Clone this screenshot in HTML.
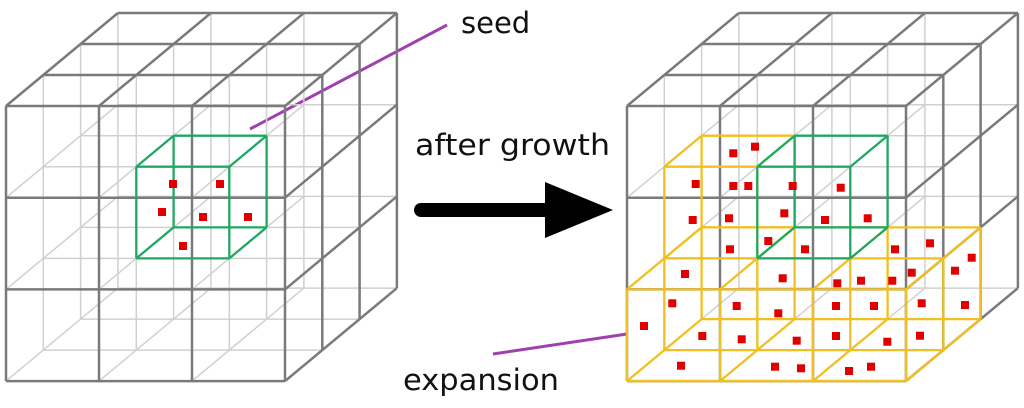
<!DOCTYPE html>
<html><head><meta charset="utf-8"><style>
html,body{margin:0;padding:0;background:#fff;}
svg{display:block;}
text{font-family:"DejaVu Sans","Liberation Sans",sans-serif;fill:#111;}
</style></head><body>
<svg id="s" width="1024" height="408" viewBox="0 0 1024 408" xmlns="http://www.w3.org/2000/svg">
<line x1="250" y1="129" x2="447" y2="25" stroke="#a040b0" stroke-width="3"/>
<line x1="493" y1="354" x2="627" y2="334" stroke="#a040b0" stroke-width="3"/>
<text x="461" y="33" font-size="29">seed</text>
<text x="415" y="155" font-size="29" textLength="195" lengthAdjust="spacingAndGlyphs">after growth</text>
<text x="403" y="390" font-size="29" textLength="156" lengthAdjust="spacingAndGlyphs">expansion</text>
<line x1="421" y1="210" x2="548" y2="210" stroke="#000" stroke-width="14" stroke-linecap="round"/>
<polygon points="545,182 613,210 545,238" fill="#000"/>
<g id="g"></g>
</svg>
<script>
var g=document.getElementById('g'),out='';
function P(ox,x,y,d){return [ox+93*x+37.3*d,106+91.7*y-31*d];}
function L(ox,a,b,c,e,f,h,col,w){var p=P(ox,a,b,c),q=P(ox,e,f,h);out+='<line x1="'+p[0].toFixed(1)+'" y1="'+p[1].toFixed(1)+'" x2="'+q[0].toFixed(1)+'" y2="'+q[1].toFixed(1)+'" stroke="'+col+'" stroke-width="'+(w||2)+'"/>';}
function grid(ox){
 var lt='#d0d0d0',dk='#7a7a7a',i,j;
 for(i=0;i<=3;i++)for(j=0;j<=3;j++){
  if(!(j==0||i==0))L(ox,0,i,j,3,i,j,lt,1.5);
  if(!(j==0||i==3))L(ox,i,0,j,i,3,j,lt,1.5);
  if(!(j==0||i==3))L(ox,i,j,0,i,j,3,lt,1.5);
 }
 for(i=0;i<=3;i++)for(j=0;j<=3;j++){
  if(j==0||i==0)L(ox,0,i,j,3,i,j,dk,2.5);
  if(j==0||i==3)L(ox,i,0,j,i,3,j,dk,2.5);
  if(j==0||i==3)L(ox,i,j,0,i,j,3,dk,2.5);
 }
}
function box(ox,x0,x1,y0,y1,d0,d1,col){
 var x,y,d;
 for(y=y0;y<=y1;y++)for(d=d0;d<=d1;d++)L(ox,x0,y,d,x1,y,d,col,2.3);
 for(x=x0;x<=x1;x++)for(d=d0;d<=d1;d++)L(ox,x,y0,d,x,y1,d,col,2.3);
 for(x=x0;x<=x1;x++)for(y=y0;y<=y1;y++)L(ox,x,y,d0,x,y,d1,col,2.3);
}
grid(6);grid(627);
box(6,1,2,1,2,1,2,'#1fa862');
var Y='#f0c020';
box(627,0,3,2,3,0,2,Y);
box(627,0,1,1,2,1,2,Y);
box(627,1,2,1,2,1,2,'#1fa862');
var dots=[[173,184],[220,184],[162,212],[203,217],[248,217],[183,246]];
var rz=[[465,440],[400,460],[287,552],[400,558],[445,558],[578,558],[722,563],[553,640],[278,660],[387,655],[675,660],[803,655],[505,723],[390,748],[615,748],[885,748],[990,730],[1115,773],[255,822],[548,835],[712,850],[783,842],[877,842],[935,818],[1065,812],[217,910],[410,918],[535,940],[708,918],[822,918],[965,910],[1095,915],[132,978],[307,1008],[425,1018],[590,1022],[708,1008],[862,1025],[960,1007],[243,1097],[525,1100],[603,1105],[747,1113],[813,1100]];
rz.forEach(function(p){dots.push([600+p[0]/3,p[1]/3]);});
dots.forEach(function(p){out+='<rect x="'+(p[0]-4).toFixed(1)+'" y="'+(p[1]-4).toFixed(1)+'" width="8" height="8" fill="#e00000"/>';});
g.innerHTML=out;
</script>
</body></html>
